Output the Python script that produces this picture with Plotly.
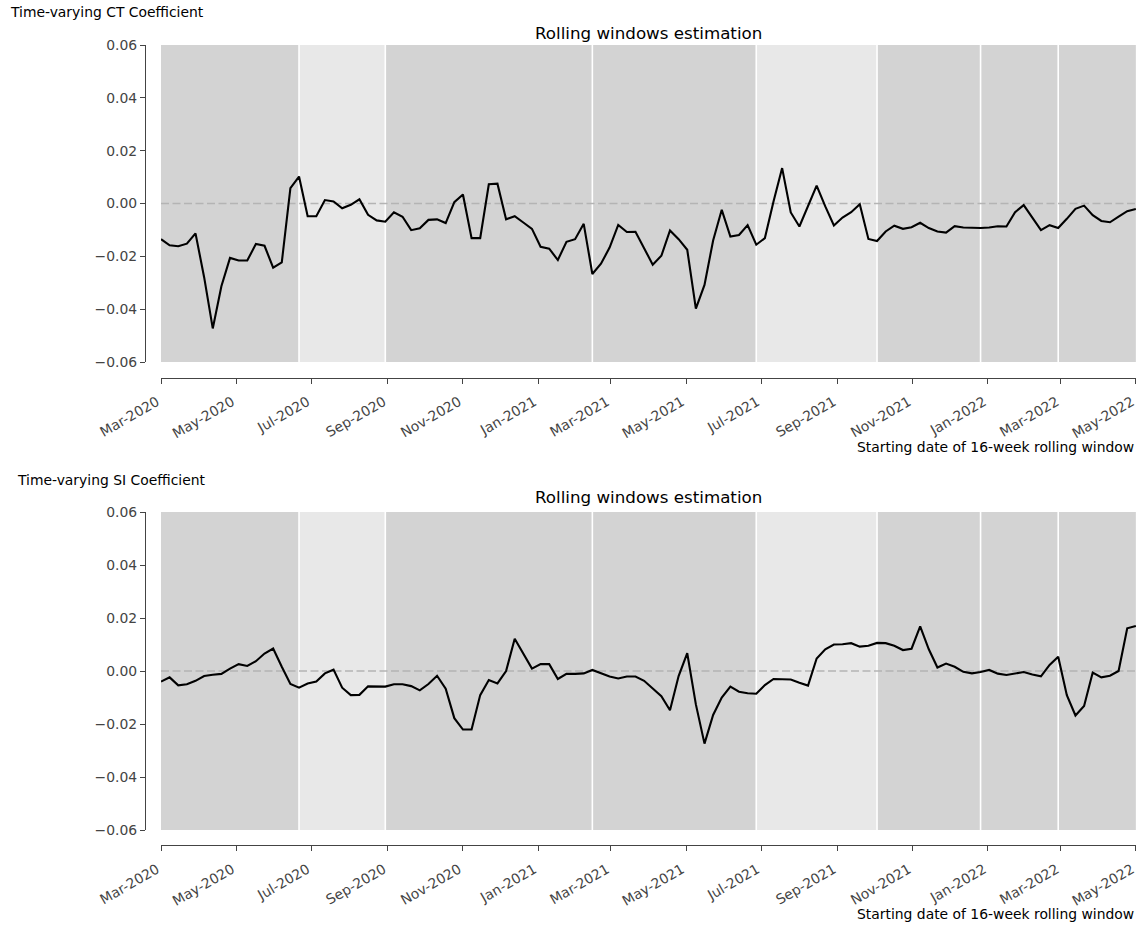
import pandas as pd
import plotly.graph_objects as go

W, H = 1136, 926

# ---------------- data ----------------
dates = pd.date_range("2020-03-01", periods=114, freq="7D")

ct_values = [
    -0.0135, -0.0158, -0.0162, -0.0152, -0.0113, -0.0279, -0.0473, -0.0313, -0.0206, -0.0216,
    -0.0216, -0.0153, -0.0160, -0.0243, -0.0223, 0.0058, 0.0102, -0.0048, -0.0048, 0.0013,
    0.0008, -0.0018, -0.0005, 0.0016, -0.0043, -0.0064, -0.0069, -0.0033, -0.0050, -0.0101,
    -0.0094, -0.0062, -0.0060, -0.0074, 0.0005, 0.0034, -0.0131, -0.0131, 0.0073, 0.0075,
    -0.0060, -0.0048, -0.0072, -0.0096, -0.0164, -0.0171, -0.0214, -0.0145, -0.0135, -0.0077,
    -0.0267, -0.0228, -0.0167, -0.0081, -0.0108, -0.0107, -0.0169, -0.0232, -0.0198, -0.0102,
    -0.0135, -0.0175, -0.0398, -0.0308, -0.0140, -0.0024, -0.0125, -0.0119, -0.0082, -0.0156,
    -0.0131, 0.0008, 0.0134, -0.0034, -0.0087, -0.0011, 0.0068, -0.0011, -0.0083, -0.0053,
    -0.0033, -0.0003, -0.0134, -0.0142, -0.0106, -0.0084, -0.0096, -0.0090, -0.0073, -0.0093,
    -0.0106, -0.0110, -0.0086, -0.0091, -0.0093, -0.0093, -0.0091, -0.0086, -0.0087, -0.0033,
    -0.0006, -0.0053, -0.0101, -0.0082, -0.0093, -0.0058, -0.0020, -0.0008, -0.0044, -0.0066,
    -0.0071, -0.0050, -0.0029, -0.0021,
]

si_values = [
    -0.0040, -0.0024, -0.0054, -0.0050, -0.0037, -0.0019, -0.0014, -0.0011, 0.0009, 0.0026,
    0.0019, 0.0037, 0.0066, 0.0085, 0.0016, -0.0049, -0.0063, -0.0047, -0.0040, -0.0009,
    0.0005, -0.0063, -0.0091, -0.0090, -0.0058, -0.0059, -0.0059, -0.0050, -0.0050, -0.0057,
    -0.0073, -0.0049, -0.0018, -0.0067, -0.0178, -0.0221, -0.0221, -0.0091, -0.0034, -0.0047,
    0.0000, 0.0122, 0.0063, 0.0009, 0.0026, 0.0026, -0.0030, -0.0011, -0.0011, -0.0009,
    0.0004, -0.0008, -0.0021, -0.0028, -0.0021, -0.0021, -0.0037, -0.0066, -0.0095, -0.0148,
    -0.0019, 0.0067, -0.0126, -0.0274, -0.0166, -0.0100, -0.0059, -0.0078, -0.0084, -0.0086,
    -0.0053, -0.0030, -0.0032, -0.0032, -0.0044, -0.0055, 0.0047, 0.0082, 0.0100, 0.0101,
    0.0105, 0.0092, 0.0095, 0.0106, 0.0105, 0.0095, 0.0079, 0.0084, 0.0168, 0.0082,
    0.0013, 0.0028, 0.0016, -0.0003, -0.0009, -0.0004, 0.0004, -0.0010, -0.0015, -0.0009,
    -0.0004, -0.0013, -0.0020, 0.0023, 0.0054, -0.0091, -0.0168, -0.0132, -0.0006, -0.0024,
    -0.0018, 0.0000, 0.0161, 0.0170,
]

band_edges = ["2020-03-01", "2020-06-21", "2020-08-30", "2021-02-14", "2021-06-27",
              "2021-10-03", "2021-12-26", "2022-02-27", "2022-05-01"]
band_colors = ["#d3d3d3", "#e8e8e8", "#d3d3d3", "#d3d3d3", "#e8e8e8",
               "#d3d3d3", "#d3d3d3", "#d3d3d3"]

xtick_vals = ["2020-03-01", "2020-05-01", "2020-07-01", "2020-09-01", "2020-11-01",
              "2021-01-01", "2021-03-01", "2021-05-01", "2021-07-01", "2021-09-01",
              "2021-11-01", "2022-01-01", "2022-03-01", "2022-05-01"]
xtick_text = ["Mar-2020", "May-2020", "Jul-2020", "Sep-2020", "Nov-2020",
              "Jan-2021", "Mar-2021", "May-2021", "Jul-2021", "Sep-2021",
              "Nov-2021", "Jan-2022", "Mar-2022", "May-2022"]
ytick_vals = [-0.06, -0.04, -0.02, 0.0, 0.02, 0.04, 0.06]
ytick_text = ["\u22120.06", "\u22120.04", "\u22120.02", "0.00", "0.02", "0.04", "0.06"]

panel_labels = ["Time-varying CT Coefficient", "Time-varying SI Coefficient"]
panel_title = "Rolling windows estimation"
x_label = "Starting date of 16-week rolling window"

# ---------------- figure ----------------
FONT = "DejaVu Sans"
AX = "#444444"
TICKFONT = dict(family=FONT, size=13.9, color="#444444")
X_RANGE = [band_edges[0] + " 00:00", band_edges[-1] + " 03:00"]


def px_x(p):
    return p / W


def px_y(p):
    return 1 - p / H


fig = go.Figure()
fig.add_trace(go.Scatter(x=dates, y=ct_values, mode="lines",
                         line=dict(color="black", width=2.1),
                         xaxis="x", yaxis="y", showlegend=False))
fig.add_trace(go.Scatter(x=dates, y=si_values, mode="lines",
                         line=dict(color="black", width=2.1),
                         xaxis="x2", yaxis="y2", showlegend=False))

panels = [
    # (xaxis key, yaxis key, plot top px, plot bottom px, x spine px, label y, title y, xlabel y, label x)
    ("x", "y", 45, 362, 377.5, 12, 33, 447, 8),
    ("x2", "y2", 512, 830, 845, 480, 497, 914, 15),
]

shapes = []
annotations = []
layout_axes = {}
for idx, (xk, yk, top, bot, xspine, ly, ty, xly, lx) in enumerate(panels):
    xname = "xaxis" if xk == "x" else "xaxis2"
    yname = "yaxis" if yk == "y" else "yaxis2"
    layout_axes[xname] = dict(
        domain=[px_x(161), 1.0], anchor="free", position=px_y(xspine),
        type="date", range=X_RANGE,
        tickmode="array", tickvals=xtick_vals, ticktext=xtick_text,
        tickangle=-30, ticks="outside", ticklen=5, tickwidth=1.1, tickcolor=AX,
        ticklabeloverflow="allow", ticklabelshift=-4, ticklabelstandoff=5,
        showline=True, linecolor=AX, linewidth=1.1, automargin=False,
        showgrid=False, zeroline=False, tickfont=TICKFONT,
    )
    layout_axes[yname] = dict(
        domain=[px_y(bot), px_y(top)], anchor="free", position=px_x(145),
        range=[-0.06, 0.06], tickmode="array", tickvals=ytick_vals, ticktext=ytick_text,
        ticks="outside", ticklen=5, tickwidth=1.1, tickcolor=AX,
        ticklabeloverflow="allow",
        showline=True, linecolor=AX, linewidth=1.1, automargin=False,
        showgrid=False, zeroline=False, tickfont=TICKFONT,
    )
    # shaded bands
    for i, col in enumerate(band_colors):
        shapes.append(dict(type="rect", xref=xk, yref=f"{yk} domain",
                           x0=band_edges[i], x1=band_edges[i + 1], y0=0, y1=1,
                           fillcolor=col, line=dict(width=0), layer="below"))
    # white separators
    for e in band_edges[1:-1]:
        shapes.append(dict(type="line", xref=xk, yref=f"{yk} domain",
                           x0=e, x1=e, y0=0, y1=1,
                           line=dict(color="white", width=1.6), layer="below"))
    # zero reference line
    shapes.append(dict(type="line", xref=f"{xk} domain", yref=yk,
                       x0=0, x1=1, y0=0, y1=0,
                       line=dict(color="#b4b4b4", width=1.6, dash="8px,3.5px"),
                       layer="below"))
    annotations.append(dict(text=panel_labels[idx], xref="paper", yref="paper",
                            x=px_x(lx), y=px_y(ly), xanchor="left", yanchor="middle",
                            showarrow=False, font=dict(family=FONT, size=13.9, color="black")))
    annotations.append(dict(text=panel_title, xref="paper", yref="paper",
                            x=px_x((161 + 1136) / 2), y=px_y(ty), xanchor="center",
                            yanchor="middle", showarrow=False,
                            font=dict(family=FONT, size=16.7, color="black")))
    annotations.append(dict(text=x_label, xref="paper", yref="paper",
                            x=1.0, y=px_y(xly), xanchor="right", yanchor="middle",
                            showarrow=False, font=dict(family=FONT, size=13.9, color="black")))

fig.update_layout(
    width=W, height=H, autosize=False,
    margin=dict(l=0, r=0, t=0, b=0, pad=0, autoexpand=False),
    paper_bgcolor="white", plot_bgcolor="white",
    font=dict(family=FONT, color="#444444"),
    shapes=shapes, annotations=annotations,
    showlegend=False,
    **layout_axes,
)

fig.write_html("out.html",
               config={"displayModeBar": False},
               post_script="document.body.style.margin='0';document.body.style.overflow='hidden';")
